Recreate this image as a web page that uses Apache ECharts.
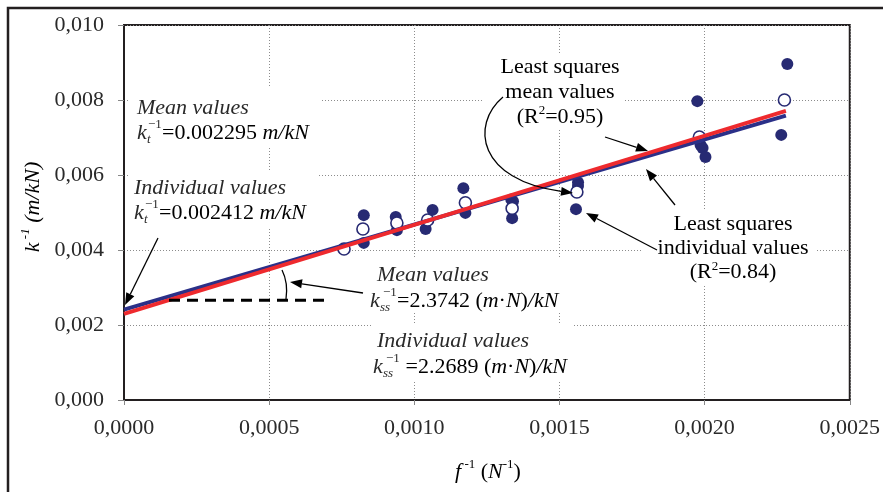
<!DOCTYPE html>
<html>
<head>
<meta charset="utf-8">
<script src="https://cdn.jsdelivr.net/npm/echarts@6/dist/echarts.min.js"></script>
<style>
  html, body { margin: 0; padding: 0; background: #fff; }
  #chart { width: 883px; height: 492px; }
</style>
</head>
<body>
<div id="chart"></div>
<script>
// Individual test results: f^-1 (1/N) against k^-1 (m/kN)
const individualX = [0.000826, 0.000826, 0.000936, 0.000940, 0.001063, 0.001039, 0.001169, 0.001176,
                     0.001334, 0.001340, 0.001337, 0.001564, 0.001564, 0.001557,
                     0.001975, 0.001986, 0.001993, 0.002003, 0.002285, 0.002264];
const individualY = [0.00493, 0.00419, 0.00488, 0.00453, 0.00507, 0.00456, 0.00565, 0.00499,
                     0.00535, 0.00530, 0.00485, 0.00581, 0.00571, 0.00509,
                     0.00797, 0.00680, 0.00672, 0.00648, 0.00896, 0.00707];

// Mean values per load level
const meanX = [0.000758, 0.000823, 0.000940, 0.001046, 0.001176, 0.001337, 0.001560, 0.001982, 0.002275];
const meanY = [0.004027, 0.004560, 0.004720, 0.004800, 0.005260, 0.005110, 0.005547, 0.007013, 0.008000];

// Least squares fits (intercept = k_t^-1, slope = k_ss^-1)
const meanIntercept = 0.002295;
const meanSlope = 2.3742;
const indivIntercept = 0.002412;
const indivSlope = 2.2689;
const fitXEnd = 0.00228;

// Slope triangle on the mean-values fit
const triangleX = [0.000155, 0.000696];

const yTickLabels = ['0,000', '0,002', '0,004', '0,006', '0,008', '0,010'];
const xTickLabels = ['0,0000', '0,0005', '0,0010', '0,0015', '0,0020', '0,0025'];

const FONT = '"Liberation Serif", "Times New Roman", serif';
const INK = '#231f20';
const TEXT = '#2a2a2a';
const NAVY = '#272a73';
const BLUE = '#2b3088';
const RED = '#ee2a2e';

const fit = (b, m) => [[0, b], [fitXEnd, b + m * fitXEnd]];
const triY = meanIntercept + meanSlope * triangleX[0];

const chart = echarts.init(document.getElementById('chart'), null, { renderer: 'canvas' });

function font(size, italic) {
  return (italic ? 'italic ' : '') + size + 'px ' + FONT;
}

function label(x, y, text, opt) {
  opt = opt || {};
  return {
    type: 'text', x: x, y: y, z: 20,
    style: Object.assign({
      text: text, fill: TEXT, font: font(opt.size || 22, opt.italic),
      textAlign: opt.align || 'left', textVerticalAlign: 'middle'
    }, opt.style || {})
  };
}

const rich = {
  u: { fontFamily: FONT, fontSize: 22, lineHeight: 28, color: TEXT },
  i: { fontFamily: FONT, fontSize: 22, lineHeight: 28, fontStyle: 'italic', color: TEXT },
  s: { fontFamily: FONT, fontSize: 13, lineHeight: 12, verticalAlign: 'top', color: TEXT },
  si: { fontFamily: FONT, fontSize: 13, lineHeight: 12, verticalAlign: 'top', fontStyle: 'italic', color: TEXT }
};

// k with stacked subscript / superscript, followed by the rest of the expression
function formula(x, y, sub, supDx, restDx, rest) {
  return [
    label(x, y, 'k', { italic: true }),
    label(x + supDx, y - 8, '\u22121', { size: 13 }),
    label(x + 10, y + 7, sub, { size: 13, italic: true }),
    { type: 'text', x: x + restDx, y: y, z: 20,
      style: { text: rest, rich: rich, textAlign: 'left', textVerticalAlign: 'middle' } }
  ];
}

function box(x, y, w, h) {
  return { type: 'rect', z: 10, shape: { x: x, y: y, width: w, height: h },
           style: { fill: '#fff' } };
}

function arrow(x1, y1, x2, y2) {
  const a = Math.atan2(y2 - y1, x2 - x1);
  const L = 12, W = 4.5;
  const bx = x2 - L * Math.cos(a), by = y2 - L * Math.sin(a);
  return [
    { type: 'line', z: 30, shape: { x1: x1, y1: y1, x2: bx, y2: by },
      style: { stroke: '#000', lineWidth: 1.3 } },
    { type: 'polygon', z: 30,
      shape: { points: [[x2, y2], [bx - W * Math.sin(a), by + W * Math.cos(a)], [bx + W * Math.sin(a), by - W * Math.cos(a)]] },
      style: { fill: '#000' } }
  ];
}

function curvedArrow(p0, c1, c2, p3) {
  const a = Math.atan2(p3[1] - c2[1], p3[0] - c2[0]);
  const L = 12, W = 4.5;
  const bx = p3[0] - L * Math.cos(a), by = p3[1] - L * Math.sin(a);
  return [
    { type: 'bezierCurve', z: 30,
      shape: { x1: p0[0], y1: p0[1], cpx1: c1[0], cpy1: c1[1], cpx2: c2[0], cpy2: c2[1], x2: bx, y2: by },
      style: { stroke: '#000', lineWidth: 1.3, fill: 'none' } },
    { type: 'polygon', z: 30,
      shape: { points: [[p3[0], p3[1]], [bx - W * Math.sin(a), by + W * Math.cos(a)], [bx + W * Math.sin(a), by - W * Math.cos(a)]] },
      style: { fill: '#000' } }
  ];
}

const graphics = [].concat(
  // outer frame
  [{ type: 'rect', z: 1, shape: { x: 8, y: 8, width: 1000, height: 1000 },
     style: { fill: 'none', stroke: INK, lineWidth: 2.5 } }],
  // annotation backgrounds
  [box(130, 88, 190, 59), box(130, 170, 188, 57), box(368, 258, 198, 55), box(372, 323, 200, 57),
   box(484, 53, 141, 77), box(641, 209, 174, 76)],
  // intercept annotations
  [label(137, 108, 'Mean values', { italic: true })],
  formula(137, 133, 't', 11, 25, '{u|=0.002295 }{i|m/kN}'),
  [label(134, 188, 'Individual values', { italic: true })],
  formula(134, 213, 't', 11, 25, '{u|=0.002412 }{i|m/kN}'),
  // slope annotations
  [label(377, 275, 'Mean values', { italic: true })],
  formula(370, 301, 'ss', 13, 27, '{u|=2.3742 (}{i|m}{u|\u00b7}{i|N}{u|)}{i|/kN}'),
  [label(377, 341, 'Individual values', { italic: true })],
  formula(373, 367, 'ss', 13, 27, '{u| =2.2689 (}{i|m}{u|\u00b7}{i|N}{u|)}{i|/kN}'),
  // fit annotations
  [{ type: 'text', x: 560, y: 92, z: 20,
     style: { text: '{u|Least squares}\n{u|mean values}\n{u|(R}{s|2}{u|=0.95)}',
              rich: { u: Object.assign({}, rich.u, { lineHeight: 25 }), s: rich.s },
              textAlign: 'center', textVerticalAlign: 'middle' } },
   { type: 'text', x: 733, y: 248, z: 20,
     style: { text: '{u|Least squares}\n{u|individual values}\n{u|(R}{s|2}{u|=0.84)}',
              rich: { u: Object.assign({}, rich.u, { lineHeight: 24 }), s: rich.s },
              textAlign: 'center', textVerticalAlign: 'middle' } }],
  // axis names
  [{ type: 'text', x: 33, y: 207, z: 20, rotation: Math.PI / 2,
     style: { text: '{i|k}{si| -1}{i| (m/kN)}', rich: rich, textAlign: 'center', textVerticalAlign: 'middle' } },
   { type: 'text', x: 488, y: 472, z: 20,
     style: { text: '{i|f}{s| -1}{u| (}{i|N}{s|-1}{u|)}', rich: rich, textAlign: 'center', textVerticalAlign: 'middle' } }],
  // slope bracket
  [{ type: 'bezierCurve', z: 30,
     shape: { x1: 282, y1: 270, cpx1: 288, cpy1: 282, cpx2: 287, cpy2: 292, x2: 286, y2: 299 },
     style: { stroke: '#000', lineWidth: 1.3, fill: 'none' } }],
  // arrows
  arrow(158, 238, 125, 305),
  arrow(363, 293, 290, 282),
  arrow(605, 137, 648, 151),
  arrow(675, 205, 646, 169),
  arrow(657, 250, 586, 213),
  curvedArrow([503, 97], [470, 125], [478, 180], [573, 193])
);

chart.setOption({
  animation: false,
  backgroundColor: '#fff',
  grid: { left: 124, right: 30, top: 25, bottom: 92, show: true, borderColor: INK, borderWidth: 2, backgroundColor: 'transparent' },
  xAxis: {
    type: 'value', min: 0, max: 0.0025, interval: 0.0005,
    axisLine: { show: true, lineStyle: { color: INK, width: 2 } },
    axisTick: { show: true, length: 5, lineStyle: { color: '#888', width: 1 } },
    axisLabel: { margin: 17, color: TEXT, fontFamily: FONT, fontSize: 22,
                 formatter: (v, i) => xTickLabels[i] },
    splitLine: { show: true, lineStyle: { color: '#8c8c8c', width: 1, type: [1, 2] } }
  },
  yAxis: {
    type: 'value', min: 0, max: 0.01, interval: 0.002,
    axisLine: { show: true, lineStyle: { color: INK, width: 2 } },
    axisTick: { show: true, length: 6, lineStyle: { color: '#888', width: 1 } },
    axisLabel: { margin: 20, color: TEXT, fontFamily: FONT, fontSize: 22,
                 formatter: (v, i) => yTickLabels[i] },
    splitLine: { show: true, lineStyle: { color: '#8c8c8c', width: 1, type: [1, 2] } }
  },
  series: [
    { type: 'scatter', name: 'Individual values', z: 3, silent: true,
      data: individualX.map((x, i) => [x, individualY[i]]),
      symbol: 'circle', symbolSize: 12, itemStyle: { color: NAVY, opacity: 1 } },
    { type: 'scatter', name: 'Mean values', z: 4, silent: true,
      data: meanX.map((x, i) => [x, meanY[i]]),
      symbol: 'circle', symbolSize: 12, itemStyle: { color: '#fff', borderColor: NAVY, borderWidth: 1.6, opacity: 1 } },
    { type: 'line', name: 'LS individual', z: 5, silent: true, symbol: 'none',
      data: fit(indivIntercept, indivSlope), lineStyle: { color: BLUE, width: 4 } },
    { type: 'line', name: 'LS mean', z: 6, silent: true, symbol: 'none',
      data: fit(meanIntercept, meanSlope), lineStyle: { color: RED, width: 4 } },
    { type: 'line', name: 'Slope', z: 6, silent: true, symbol: 'none',
      data: triangleX.map(x => [x, triY]), lineStyle: { color: '#000', width: 3, type: [11, 7] } }
  ],
  graphic: graphics
});
</script>
</body>
</html>
